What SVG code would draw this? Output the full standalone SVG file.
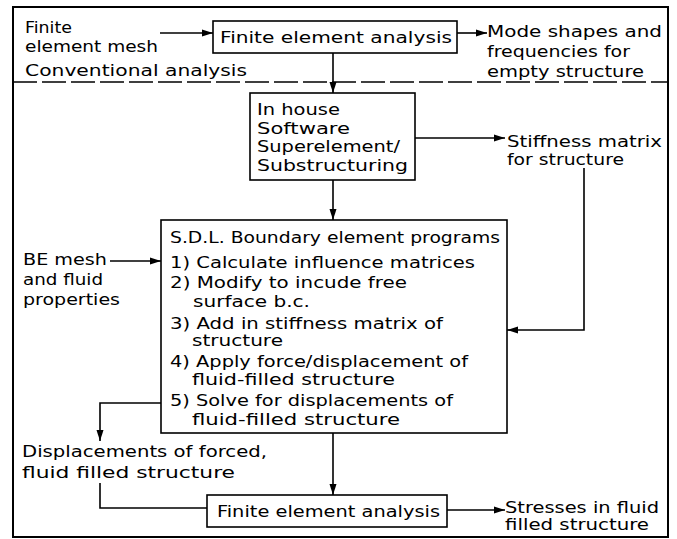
<svg xmlns="http://www.w3.org/2000/svg" width="677" height="539" viewBox="0 0 677 539">
<style>
text{font-family:"DejaVu Sans","Liberation Sans",sans-serif;font-size:15.5px;fill:#000;}
.box{fill:#fff;stroke:#000;stroke-width:1.6;}
.ln{fill:none;stroke:#000;stroke-width:1.6;}
.fr{fill:none;stroke:#000;stroke-width:2;}
</style>
<defs>
<marker id="ah" markerUnits="userSpaceOnUse" markerWidth="11" markerHeight="8" refX="11" refY="4" orient="auto">
<path d="M0,0.5 L11,4 L0,7.5 z" fill="#000"/>
</marker>
</defs>
<rect width="677" height="539" fill="#fff"/>
<g id="frame">
<rect class="fr" x="13" y="7" width="655" height="530"/>
<line class="ln" x1="13" y1="82" x2="668" y2="82" stroke-dasharray="24 5"/>
</g>
<g id="connectors">
<line class="ln" x1="160" y1="33" x2="213" y2="33" marker-end="url(#ah)"/>
<line class="ln" x1="457" y1="33" x2="487" y2="33" marker-end="url(#ah)"/>
<line class="ln" x1="333" y1="53" x2="333" y2="93" marker-end="url(#ah)"/>
<line class="ln" x1="415" y1="138" x2="505" y2="138" marker-end="url(#ah)"/>
<line class="ln" x1="333" y1="180" x2="333" y2="220" marker-end="url(#ah)"/>
<polyline class="ln" points="584,168 584,330 507,330" marker-end="url(#ah)"/>
<line class="ln" x1="110" y1="261" x2="161" y2="261" marker-end="url(#ah)"/>
<polyline class="ln" points="161,403 100,403 100,441" marker-end="url(#ah)"/>
<line class="ln" x1="333" y1="433" x2="333" y2="495" marker-end="url(#ah)"/>
<polyline class="ln" points="100,483 100,508 207,508"/>
<line class="ln" x1="447" y1="510" x2="505" y2="510" marker-end="url(#ah)"/>
</g>
<g id="fe-mesh-input">
<text x="25" y="33" textLength="47" lengthAdjust="spacingAndGlyphs">Finite</text>
<text x="25" y="52" textLength="133" lengthAdjust="spacingAndGlyphs">element mesh</text>
</g>
<g id="conventional-label">
<text x="25" y="76" textLength="222" lengthAdjust="spacingAndGlyphs">Conventional analysis</text>
</g>
<g id="fea-top">
<rect class="box" x="213" y="21" width="244" height="32"/>
<text x="220" y="43" textLength="232" lengthAdjust="spacingAndGlyphs">Finite element analysis</text>
</g>
<g id="mode-shapes">
<text x="487" y="37" textLength="175" lengthAdjust="spacingAndGlyphs">Mode shapes and</text>
<text x="487" y="57" textLength="143" lengthAdjust="spacingAndGlyphs">frequencies for</text>
<text x="487" y="77" textLength="157" lengthAdjust="spacingAndGlyphs">empty structure</text>
</g>
<g id="in-house">
<rect class="box" x="250" y="93" width="165" height="87"/>
<text x="257" y="115" textLength="83" lengthAdjust="spacingAndGlyphs">In house</text>
<text x="257" y="134" textLength="93" lengthAdjust="spacingAndGlyphs">Software</text>
<text x="257" y="152" textLength="143" lengthAdjust="spacingAndGlyphs">Superelement/</text>
<text x="257" y="171" textLength="151" lengthAdjust="spacingAndGlyphs">Substructuring</text>
</g>
<g id="stiffness">
<text x="507" y="147" textLength="155" lengthAdjust="spacingAndGlyphs">Stiffness matrix</text>
<text x="507" y="165" textLength="117" lengthAdjust="spacingAndGlyphs">for structure</text>
</g>
<g id="be-mesh">
<text x="23" y="265" textLength="84" lengthAdjust="spacingAndGlyphs">BE mesh</text>
<text x="23" y="285" textLength="80" lengthAdjust="spacingAndGlyphs">and fluid</text>
<text x="23" y="305" textLength="97" lengthAdjust="spacingAndGlyphs">properties</text>
</g>
<g id="sdl-be">
<rect class="box" x="161" y="220" width="346" height="213"/>
<text x="170" y="243" textLength="330" lengthAdjust="spacingAndGlyphs">S.D.L. Boundary element programs</text>
<text x="170" y="268" textLength="305" lengthAdjust="spacingAndGlyphs">1) Calculate influence matrices</text>
<text x="170" y="288" textLength="237" lengthAdjust="spacingAndGlyphs">2) Modify to incude free</text>
<text x="193" y="307" textLength="117" lengthAdjust="spacingAndGlyphs">surface b.c.</text>
<text x="170" y="329" textLength="273" lengthAdjust="spacingAndGlyphs">3) Add in stiffness matrix of</text>
<text x="192" y="346" textLength="91" lengthAdjust="spacingAndGlyphs">structure</text>
<text x="170" y="367" textLength="298" lengthAdjust="spacingAndGlyphs">4) Apply force/displacement of</text>
<text x="192" y="385" textLength="203" lengthAdjust="spacingAndGlyphs">fluid-filled structure</text>
<text x="170" y="406" textLength="283" lengthAdjust="spacingAndGlyphs">5) Solve for displacements of</text>
<text x="192" y="425" textLength="208" lengthAdjust="spacingAndGlyphs">fluid-filled structure</text>
</g>
<g id="displacements">
<text x="22" y="457" textLength="245" lengthAdjust="spacingAndGlyphs">Displacements of forced,</text>
<text x="22" y="478" textLength="213" lengthAdjust="spacingAndGlyphs">fluid filled structure</text>
</g>
<g id="fea-bottom">
<rect class="box" x="207" y="495" width="240" height="32"/>
<text x="217" y="517" textLength="223" lengthAdjust="spacingAndGlyphs">Finite element analysis</text>
</g>
<g id="stresses">
<text x="505" y="513" textLength="154" lengthAdjust="spacingAndGlyphs">Stresses in fluid</text>
<text x="505" y="530" textLength="144" lengthAdjust="spacingAndGlyphs">filled structure</text>
</g>
</svg>
